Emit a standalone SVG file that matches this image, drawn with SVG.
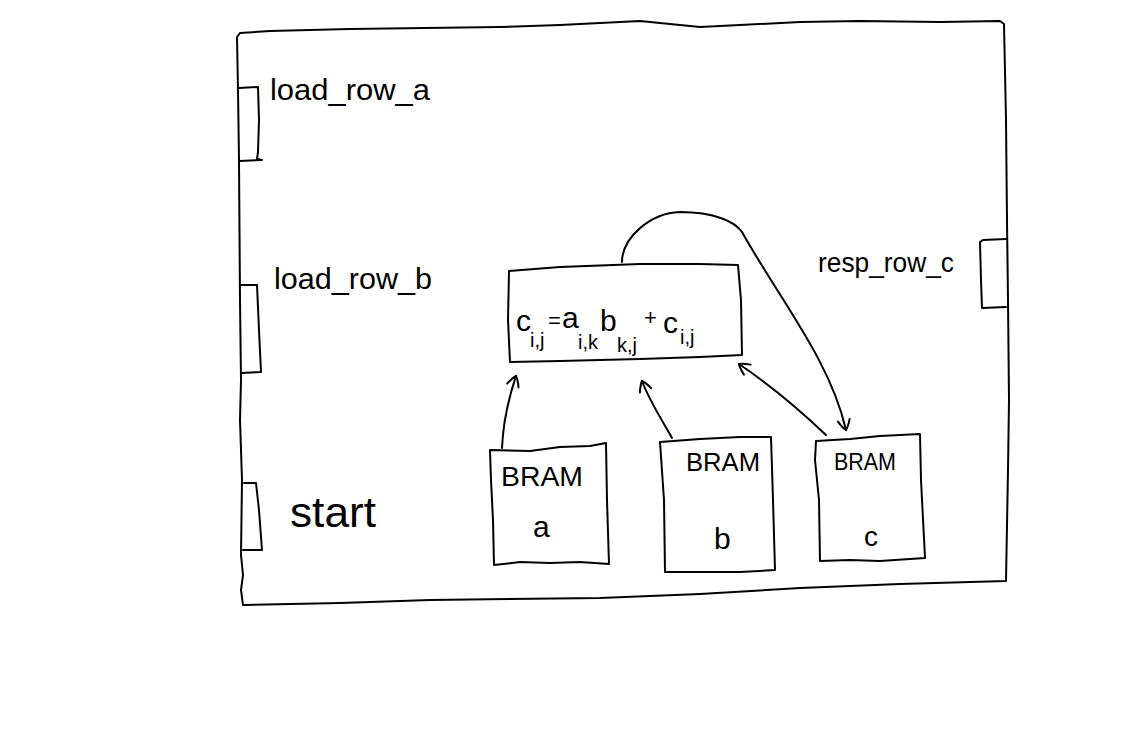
<svg xmlns="http://www.w3.org/2000/svg" width="1136" height="734" viewBox="0 0 1136 734">
<style>
.s{fill:none;stroke:#000;stroke-width:2;stroke-linejoin:round;stroke-linecap:round}
.t{font-family:"Liberation Sans","DejaVu Sans",sans-serif;fill:#000}
</style>
<defs>
<marker id="arr" viewBox="0 0 14 14" refX="12" refY="7" markerWidth="14" markerHeight="14" markerUnits="userSpaceOnUse" orient="auto">
<path d="M2,1 Q9,4 12,7 Q9,10 2,13" fill="none" stroke="#000" stroke-width="2" stroke-linecap="round"/>
</marker>
</defs>
<rect width="1136" height="734" fill="#fff"/>
<g id="outer">
<path class="s" d="M237,37 L240,33 L270,31 L350,29 L500,27 L560,25 L640,21 L700,27 L740,25 L800,22 L860,21 L940,22 L1000,21 L1004,24 L1006,120 L1007,220 L1008,300 L1009,400 L1008,470 L1006,581 L900,584 L800,588 L700,594 L600,598 L430,600 L340,603 L243,605 L241,590 L243,575 L241,555 L242,480 L240,420 L241,380 L240,300 L239,160 L238,90 Z"/>
</g>
<g id="port-load_row_a">
<path class="s" d="M239,88 L258,87 L259,120 L258,152 L257,159 L262,160 L239,161"/>
<text class="t" x="270" y="100" font-size="30" textLength="160" lengthAdjust="spacingAndGlyphs">load_row_a</text>
</g>
<g id="port-load_row_b">
<path class="s" d="M241,285 L257,285 L259,330 L261,372 L242,373"/>
<text class="t" x="274" y="289" font-size="30" textLength="158" lengthAdjust="spacingAndGlyphs">load_row_b</text>
</g>
<g id="port-start">
<path class="s" d="M244,483 L256,483 L259,510 L262,550 L243,550"/>
<text class="t" x="290" y="527" font-size="42" textLength="86" lengthAdjust="spacingAndGlyphs">start</text>
</g>
<g id="port-resp_row_c">
<path class="s" d="M1006,239 L983,240 L980,242 L981,280 L982,308 L1006,307"/>
<text class="t" x="818" y="272" font-size="28" textLength="136" lengthAdjust="spacingAndGlyphs">resp_row_c</text>
</g>
<g id="compute">
<path class="s" d="M509,271 L560,267 L640,264 L700,264 L738,265 L741,300 L742,355 L700,357 L640,359 L560,361 L510,362 L508,320 Z"/>
<text class="t" font-size="30"><tspan x="516" y="331">c</tspan><tspan x="530" y="347" font-size="20">i,j</tspan><tspan x="548" y="328" font-size="22">=</tspan><tspan x="562" y="328">a</tspan><tspan x="578" y="349" font-size="20">i,k</tspan><tspan x="600" y="331">b</tspan><tspan x="617" y="352" font-size="20">k,j</tspan><tspan x="644" y="325" font-size="22">+</tspan><tspan x="663" y="333">c</tspan><tspan x="680" y="344" font-size="20">i,j</tspan></text>
</g>
<g id="bram-a">
<path class="s" d="M490,450 L530,451 L560,447 L590,446 L606,443 L607,500 L609,564 L580,562 L550,563 L520,562 L494,565 L493,520 L491,480 Z"/>
<text class="t" x="501" y="486" font-size="28" textLength="82" lengthAdjust="spacingAndGlyphs">BRAM</text>
<text class="t" x="533" y="537" font-size="30">a</text>
</g>
<g id="bram-b">
<path class="s" d="M660,442 L700,439 L740,437 L771,437 L773,500 L775,570 L740,572 L700,572 L665,572 L664,500 Z"/>
<text class="t" x="686" y="471" font-size="26" textLength="74" lengthAdjust="spacingAndGlyphs">BRAM</text>
<text class="t" x="714" y="549" font-size="30">b</text>
</g>
<g id="bram-c">
<path class="s" d="M816,441 L850,439 L880,436 L920,434 L921,480 L925,558 L880,561 L850,560 L820,561 L819,500 L815,460 Z"/>
<text class="t" x="834" y="470" font-size="24" textLength="62" lengthAdjust="spacingAndGlyphs">BRAM</text>
<text class="t" x="864" y="546" font-size="28">c</text>
</g>
<g id="connectors">
<path class="s" marker-end="url(#arr)" d="M502,448 C503,425 508,400 516,376"/>
<path class="s" marker-end="url(#arr)" d="M672,438 C662,420 650,402 642,381"/>
<path class="s" marker-end="url(#arr)" d="M826,435 C800,410 770,385 739,364"/>
<path class="s" marker-end="url(#arr)" d="M622,262 C622,238 650,213 680,212 C715,212 735,222 742,232 C780,300 830,360 846,430"/>
</g>
</svg>
